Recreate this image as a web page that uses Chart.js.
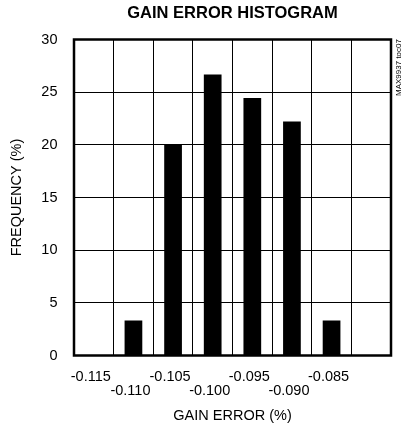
<!DOCTYPE html>
<html>
<head>
<meta charset="utf-8">
<script src="https://cdn.jsdelivr.net/npm/chart.js@4/dist/chart.umd.min.js"></script>
<style>
  html, body { margin: 0; padding: 0; background: #fff; }
  #wrap { width: 404px; height: 429px; position: relative; }
</style>
</head>
<body>
<div id="wrap"><canvas id="histChart"></canvas></div>
<script>
// bins (gain error, %) and frequency per bin (%)
const bins = ['-0.115', '-0.110', '-0.105', '-0.100', '-0.095', '-0.090', '-0.085', ''];
const frequency = [0, 3.33, 20, 26.67, 24.44, 22.22, 3.33, 0];
const yTicks = [0, 5, 10, 15, 20, 25, 30];

const chartTitle = 'GAIN ERROR HISTOGRAM';
const xTitle = 'GAIN ERROR (%)';
const yTitle = 'FREQUENCY (%)';
const partNote = 'MAX9937 toc07';

const FONT = "'Liberation Sans', Arial, sans-serif";

// thick box around the plot plus the small rotated part note
const framePlugin = {
  id: 'frame',
  afterDraw(chart) {
    const { ctx, chartArea: a } = chart;
    ctx.save();
    ctx.strokeStyle = '#000';
    ctx.lineWidth = 2.5;
    ctx.strokeRect(a.left, a.top, a.right - a.left, a.bottom - a.top);

    ctx.translate(398.5, 67.5);
    ctx.rotate(-Math.PI / 2);
    ctx.fillStyle = '#000';
    ctx.font = '8px ' + FONT;
    ctx.textAlign = 'center';
    ctx.textBaseline = 'middle';
    ctx.fillText(partNote, 0, 0);
    ctx.restore();
  }
};

document.addEventListener('DOMContentLoaded', () => {
  const ctx = document.getElementById('histChart');

  new Chart(ctx, {
    type: 'bar',
    data: {
      labels: bins,
      datasets: [{
        data: frequency,
        backgroundColor: '#000',
        borderWidth: 0,
        barPercentage: 0.447,
        categoryPercentage: 1.0,
      }]
    },
    options: {
      responsive: true,
      maintainAspectRatio: false,
      animation: false,
      layout: { padding: { left: 0, right: 13, top: 0, bottom: 0 } },
      plugins: {
        legend: { display: false },
        tooltip: { enabled: false },
        title: {
          display: true,
          text: chartTitle,
          fullSize: false,
          color: '#000',
          font: { family: FONT, size: 16.5, weight: 'bold' },
          padding: { top: 3.4, bottom: 16.3 },
        }
      },
      scales: {
        x: {
          grid: { color: '#000', lineWidth: 1, drawTicks: false },
          border: { display: false },
          ticks: {
            autoSkip: false,
            maxRotation: 0,
            minRotation: 0,
            padding: 14.5,
            labelOffset: -3,
            color: '#000',
            font: { family: FONT, size: 14.5, lineHeight: 0.966 },
            // stagger the labels on two rows
            callback: function(value, index) {
              const lbl = bins[index];
              return index % 2 === 0 ? [lbl] : ['', lbl];
            }
          },
          title: {
            display: true,
            text: xTitle,
            color: '#000',
            font: { family: FONT, size: 14.5 },
            padding: { top: 0, bottom: 4.3 },
          },
          afterFit: scale => { scale.height = 73.5; }
        },
        y: {
          min: yTicks[0],
          max: yTicks[yTicks.length - 1],
          grid: { color: '#000', lineWidth: 1, drawTicks: false },
          border: { display: false },
          ticks: {
            stepSize: 5,
            padding: 16.5,
            color: '#000',
            font: { family: FONT, size: 14.5 },
          },
          title: {
            display: true,
            text: yTitle,
            color: '#000',
            font: { family: FONT, size: 14.5 },
            padding: { top: 7.8, bottom: 0 },
          },
          afterFit: scale => { scale.width = 74; }
        }
      }
    },
    plugins: [framePlugin]
  });
});
</script>
</body>
</html>
